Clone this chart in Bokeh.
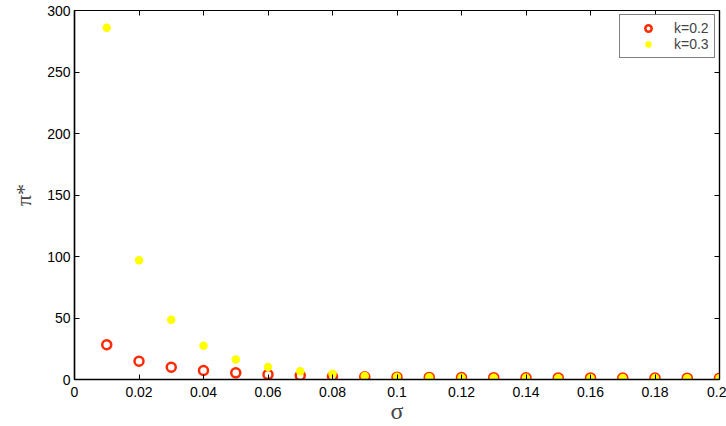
from bokeh.plotting import figure
from bokeh.models import FixedTicker, LinearAxis, Range1d, Legend, LegendItem
from bokeh.embed import file_html
from bokeh.resources import INLINE

sigma = [0.01, 0.02, 0.03, 0.04, 0.05, 0.06, 0.07, 0.08, 0.09, 0.10,
         0.11, 0.12, 0.13, 0.14, 0.15, 0.16, 0.17, 0.18, 0.19, 0.20]
pi_k02 = [28.3, 14.8, 10.0, 7.3, 5.4, 4.0, 3.2, 2.4, 2.2, 1.9,
          1.7, 1.6, 1.5, 1.4, 1.3, 1.3, 1.2, 1.2, 1.1, 1.1]
pi_k03 = [286.0, 97.0, 48.5, 27.5, 16.3, 10.2, 6.7, 4.6, 2.9, 2.3,
          1.8, 1.6, 1.5, 1.4, 1.3, 1.3, 1.2, 1.2, 1.1, 1.1]

x_ticks = [0, 0.02, 0.04, 0.06, 0.08, 0.1, 0.12, 0.14, 0.16, 0.18, 0.2]
x_tick_labels = ["0", "0.02", "0.04", "0.06", "0.08", "0.1", "0.12", "0.14", "0.16", "0.18", "0.2"]
y_ticks = [0, 50, 100, 150, 200, 250, 300]
y_tick_labels = ["0", "50", "100", "150", "200", "250", "300"]

FONT = "Liberation Sans"
SERIF = "Liberation Serif"

p = figure(width=726, height=426, output_backend="svg", toolbar_location=None,
           x_range=Range1d(0, 0.2), y_range=Range1d(0, 300),
           min_border_left=74, min_border_right=7, min_border_top=10, min_border_bottom=45)
p.grid.visible = False
p.outline_line_color = "black"
p.outline_line_width = 1.2
p.background_fill_color = "white"

r1 = p.scatter(sigma, pi_k02, size=9, marker="circle", fill_color=None,
               line_color="#ff2a00", line_width=2.5)
r2 = p.scatter(sigma, pi_k03, size=8.5, marker="circle", fill_color="#ffff00",
               line_color=None)

def style(ax, labels=True):
    ax.major_tick_in = 5
    ax.major_tick_out = 0
    ax.minor_tick_in = 0
    ax.minor_tick_out = 0
    ax.axis_line_color = "black"
    ax.axis_line_width = 1.5
    ax.major_tick_line_color = "black"
    ax.major_label_text_font = FONT
    ax.major_label_text_font_size = "14px"
    ax.major_label_text_color = "black"
    if not labels:
        ax.axis_line_width = 1.2
        ax.major_label_text_font_size = "0px"
        ax.major_label_text_alpha = 0

xa = p.xaxis[0]
xa.ticker = FixedTicker(ticks=x_ticks)
xa.major_label_overrides = {t: l for t, l in zip(x_ticks, x_tick_labels)}
style(xa)
xa.major_label_standoff = 7
xa.axis_label = "σ"
xa.axis_label_text_font = SERIF
xa.axis_label_text_font_size = "24px"
xa.axis_label_text_font_style = "normal"
xa.axis_label_standoff = -2

ya = p.yaxis[0]
ya.ticker = FixedTicker(ticks=y_ticks)
ya.major_label_overrides = {t: l for t, l in zip(y_ticks, y_tick_labels)}
style(ya)
ya.major_label_standoff = 4
ya.axis_label = "π*"
ya.axis_label_text_font = SERIF
ya.axis_label_text_font_size = "22px"
ya.axis_label_text_font_style = "normal"
ya.axis_label_standoff = 8

top = LinearAxis(ticker=FixedTicker(ticks=x_ticks))
style(top, labels=False)
top.major_label_standoff = 0
p.add_layout(top, "above")
right = LinearAxis(ticker=FixedTicker(ticks=y_ticks))
style(right, labels=False)
right.major_label_standoff = 0
p.add_layout(right, "right")

legend = Legend(items=[LegendItem(label="k=0.2", renderers=[r1]),
                       LegendItem(label="k=0.3", renderers=[r2])],
                location=(545, 321))
legend.border_line_color = "black"
legend.border_line_width = 1
legend.background_fill_color = "white"
legend.background_fill_alpha = 1
legend.label_text_font = FONT
legend.label_text_font_size = "14px"
legend.padding = 5
legend.spacing = 0
legend.margin = 0
legend.glyph_width = 46
legend.glyph_height = 16
legend.label_height = 16
legend.label_standoff = 3
p.add_layout(legend, "center")

open("out.html", "w").write(file_html(p, INLINE))
